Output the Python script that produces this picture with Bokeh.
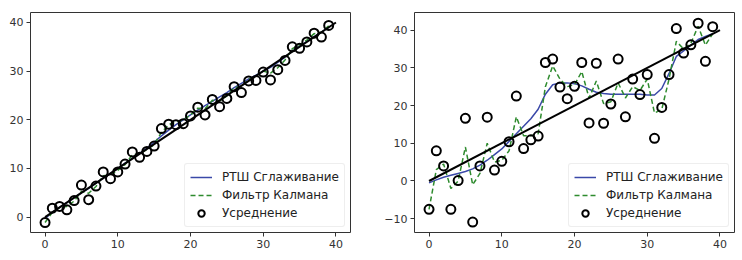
from bokeh.plotting import figure
from bokeh.layouts import row
from bokeh.models import Range1d, FixedTicker, Legend, LegendItem
from bokeh.embed import file_html
from bokeh.resources import INLINE

x = list(range(40))
line_x = [0, 40]
line_y = [0, 40]

# Left panel (low noise)
left_meas = [-1.1, 1.85, 2.2, 1.5, 3.4, 6.6, 3.6, 6.4, 9.3, 7.9,
             9.3, 10.9, 13.4, 12.3, 13.5, 14.6, 18.2, 19.1, 19.0, 19.2,
             20.8, 22.6, 21.0, 24.2, 22.7, 24.4, 26.8, 25.6, 28.0, 28.1,
             29.8, 28.2, 30.3, 32.2, 35.0, 34.7, 36.0, 37.8, 37.0, 39.4]
left_kalman = [-1.1, 1.0, 2.0, 2.2, 3.3, 5.3, 4.9, 6.3, 8.5, 8.7,
               9.6, 10.8, 12.8, 13.0, 13.9, 14.9, 17.4, 19.0, 19.6, 20.0,
               21.0, 22.4, 22.3, 24.0, 23.9, 24.9, 26.6, 26.9, 28.3, 29.0,
               30.0, 29.6, 30.7, 32.3, 34.6, 35.4, 36.4, 37.7, 38.0, 39.3]
left_rts = [-0.3, 1.0, 2.0, 3.0, 4.0, 5.0, 5.9, 7.0, 8.0, 9.0,
            10.0, 11.1, 12.1, 13.1, 14.2, 15.4, 16.7, 17.9, 19.0, 20.0,
            21.0, 22.0, 22.9, 23.8, 24.7, 25.6, 26.6, 27.5, 28.4, 29.2,
            30.0, 30.8, 31.8, 32.9, 34.1, 35.1, 36.1, 37.1, 38.0, 39.0]

# Right panel (high noise)
right_meas = [-7.5, 8.0, 4.0, -7.5, 0.1, 16.6, -10.9, 4.0, 16.9, 2.9,
              5.2, 10.4, 22.5, 8.6, 10.9, 11.9, 31.4, 32.3, 24.9, 21.8,
              25.1, 31.4, 15.4, 31.2, 15.3, 20.4, 32.3, 17.0, 27.0, 22.9,
              28.2, 11.3, 19.5, 28.2, 40.4, 33.9, 36.1, 41.8, 31.7, 40.9]
right_kalman = [-7.5, 3.0, 4.5, -2.0, 0.0, 9.0, -1.0, 2.0, 10.0, 5.0,
                5.5, 8.0, 17.0, 12.0, 12.0, 12.5, 25.0, 30.5, 27.0, 25.0,
                25.5, 29.0, 22.0, 26.5, 20.5, 21.0, 26.0, 22.0, 25.0, 24.0,
                27.0, 18.0, 19.0, 27.0, 37.0, 35.0, 36.5, 41.0, 36.0, 39.0]
right_rts = [-0.5, 0.3, 1.0, 1.5, 2.0, 2.5, 3.2, 4.2, 5.5, 7.0,
             8.5, 10.5, 12.5, 14.5, 16.5, 19.0, 23.0, 25.5, 26.0, 26.0,
             25.8, 25.2, 24.3, 23.5, 23.2, 23.0, 23.0, 23.0, 23.0, 23.0,
             22.8, 22.8, 24.5, 28.5, 33.0, 34.5, 36.0, 37.5, 38.3, 39.0]

left_yticks = [0, 10, 20, 30, 40]
right_yticks = [-10, 0, 10, 20, 30, 40]
xticks = [0, 10, 20, 30, 40]

labels = ["РТШ Сглаживание", "Фильтр Калмана", "Усреднение"]
FONT = "DejaVu Sans"


def make(meas, kalman, rts, yr, yticks, bl, br):
    p = figure(frame_width=320, frame_height=220, output_backend="svg",
               toolbar_location=None, x_range=Range1d(-2, 42), y_range=Range1d(*yr),
               min_border_left=bl, min_border_right=br, min_border_top=12,
               min_border_bottom=20)
    p.grid.visible = False
    p.outline_line_color = "#333333"
    p.outline_line_width = 1
    p.outline_line_alpha = 1
    for ax in (p.xaxis[0], p.yaxis[0]):
        ax.axis_line_color = None
        ax.major_tick_in = 0
        ax.major_tick_out = 4
        ax.minor_tick_line_color = None
        ax.major_tick_line_color = "#333333"
        ax.major_label_text_font = FONT
        ax.major_label_text_font_size = "11px"
        ax.major_label_text_color = "#333333"
        ax.major_label_standoff = 3
    p.xaxis.ticker = FixedTicker(ticks=xticks)
    p.yaxis.ticker = FixedTicker(ticks=yticks)

    r_rts = p.line(x, rts, line_color="#3a48a8", line_width=1.5)
    r_kal = p.line(x, kalman, line_color="#2e8b2e", line_width=1.5, line_dash="5 3")
    r_meas = p.scatter(x, meas, size=9, fill_color=None, line_color="black", line_width=2)
    p.line(line_x, line_y, line_color="black", line_width=2)

    leg = Legend(items=[LegendItem(label=labels[0], renderers=[r_rts]),
                        LegendItem(label=labels[1], renderers=[r_kal]),
                        LegendItem(label=labels[2], renderers=[r_meas])],
                 location="bottom_right")
    leg.label_text_font = FONT
    leg.label_text_font_size = "12px"
    leg.label_text_color = "#222222"
    leg.glyph_width = 22
    leg.glyph_height = 16
    leg.label_height = 16
    leg.label_standoff = 10
    leg.spacing = 2
    leg.padding = 5
    leg.margin = 5
    leg.border_line_color = "#dddddd"
    leg.border_radius = 3
    leg.background_fill_alpha = 0.8
    p.add_layout(leg)
    return p


p1 = make(left_meas, left_kalman, left_rts, (-3.15, 42.05), left_yticks, 30, 20)
p2 = make(right_meas, right_kalman, right_rts, (-13.65, 44.65), right_yticks, 44, 3)

layout = row(p1, p2)
open("out.html", "w").write(file_html(layout, INLINE))
